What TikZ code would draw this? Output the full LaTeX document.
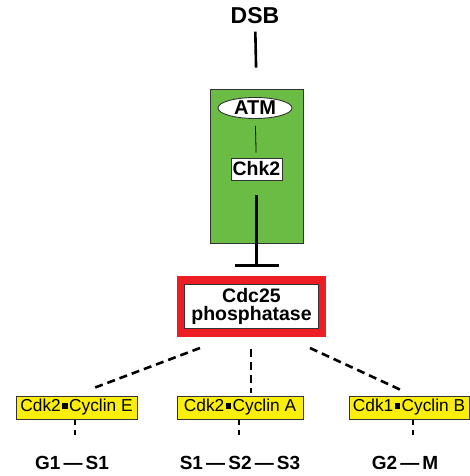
\documentclass[tikz,border=0pt]{standalone}
\usepackage{fontspec}
\setmainfont{Liberation Sans}
\usetikzlibrary{arrows.meta,shapes.geometric}
\definecolor{chkgreen}{RGB}{106,188,69}
\definecolor{cdkyellow}{RGB}{250,238,10}
\definecolor{cdcred}{RGB}{236,30,36}
\newcommand{\cdkdot}{\hspace{0.08em}\rule[0.2em]{0.32em}{0.32em}\hspace{0.08em}}
\begin{document}
\begin{tikzpicture}[x=1pt,y=-1pt,%
	box/.style={draw=black!80, line width=0.9pt, inner sep=0pt},
	cdk/.style={box, fill=cdkyellow, minimum height=23pt, font=\fontsize{17.3}{17}\selectfont},
	phase/.style={font=\fontsize{19}{19}\selectfont\bfseries},
	dashline/.style={line width=2.6pt, dash pattern=on 8pt off 5pt},
	tick/.style={line width=1.8pt, dash pattern=on 5pt off 5pt}]%
	\useasboundingbox (0,0) rectangle (469,476);
	\coordinate (top) at (255,16);
	\coordinate (mid) at (251.5,306.5);
	\node[font=\fontsize{23}{23}\selectfont\bfseries] (dsb) at (top) {DSB};
	\node[box, fill=chkgreen, minimum width=93pt, minimum height=154pt] (grn) at (256.5,166) {};
	\node[box, ellipse, fill=white, minimum width=74pt, minimum height=21pt, font=\fontsize{20}{20}\selectfont\bfseries] (atm) at (255,108) {ATM};
	\node[box, fill=white, minimum width=51pt, minimum height=22pt, font=\fontsize{19.5}{19}\selectfont\bfseries] (chk) at (256.5,169) {Chk2};
	\node[fill=cdcred, minimum width=149pt, minimum height=61pt, inner sep=0pt] (frame) at (mid) {};
	\node[box, fill=white, minimum width=134pt, minimum height=44pt, align=center, font=\fontsize{19.5}{18}\selectfont\bfseries] (cdc) at (mid) {Cdc25\\phosphatase};
	\node[cdk, minimum width=121pt] (cyce) at (76.5,407.5) {Cdk2\cdkdot Cyclin E};
	\node[cdk, minimum width=126pt] (cyca) at (240,407.5) {Cdk2\cdkdot Cyclin A};
	\node[cdk, minimum width=120pt] (cycb) at (409,407.5) {Cdk1\cdkdot Cyclin B};
	\node[phase] (g1s1) at (72,463) {G1\,—\,S1};
	\node[phase] (s1s3) at (240,463) {S1\,—\,S2\,—\,S3};
	\node[phase] (g2m) at (405,463) {G2\,—\,M};
	\coordinate (le) at (200,348);
	\coordinate (me) at (251,349);
	\coordinate (re) at (310,348);
	\draw[line width=2.6pt, shorten <=4pt, shorten >=21pt] (dsb) -- (grn.north);
	\draw[line width=0.8pt, shorten <=7pt, shorten >=5pt] (atm) -- (chk);
	\draw[line width=2.8pt, shorten <=15pt, shorten >=9pt, -{Bar[width=44pt,line width=2.8pt]}] (chk) -- (frame.north -| chk);
	\draw[dashline] (le) -- ([xshift=18.5pt,yshift=8pt]cyce.north);
	\draw[dashline] (me) -- ([xshift=11pt,yshift=3pt]cyca.north);
	\draw[dashline] (re) -- ([xshift=-9pt,yshift=6pt]cycb.north);
	\draw[tick, shorten <=1pt, shorten >=15pt] (cyce.south -| 75,0) -- (g1s1.north -| 75,0);
	\draw[tick, shorten <=1pt, shorten >=15pt] (cyca.south -| 239,0) -- (s1s3.north -| 239,0);
	\draw[tick, shorten <=1pt, shorten >=15pt] (cycb.south -| 413,0) -- (g2m.north -| 413,0);
\end{tikzpicture}
\end{document}
